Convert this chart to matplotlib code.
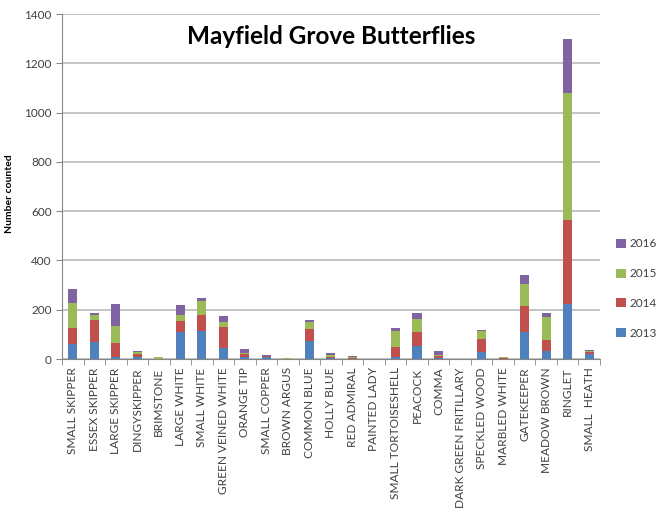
import matplotlib.pyplot as plt
import numpy as np

species = ['SMALL SKIPPER', 'ESSEX SKIPPER', 'LARGE SKIPPER', 'DINGYSKIPPER',
           'BRIMSTONE', 'LARGE WHITE', 'SMALL WHITE', 'GREEN VEINED WHITE',
           'ORANGE TIP', 'SMALL COPPER', 'BROWN ARGUS', 'COMMON BLUE',
           'HOLLY BLUE', 'RED ADMIRAL', 'PAINTED LADY', 'SMALL TORTOISESHELL',
           'PEACOCK', 'COMMA', 'DARK GREEN FRITILLARY', 'SPECKLED WOOD',
           'MARBLED WHITE', 'GATEKEEPER', 'MEADOW BROWN', 'RINGLET',
           'SMALL  HEATH']

y2013 = [60, 70, 7, 10, 0, 111, 114, 46, 10, 8, 0, 73, 5, 1, 0, 10, 54, 5, 0, 28, 0, 111, 32, 223, 19]
y2014 = [67, 87, 58, 9, 2, 45, 63, 85, 9, 4, 0, 49, 5, 3, 0, 40, 56, 9, 0, 55, 4, 103, 46, 340, 8]
y2015 = [102, 20, 68, 8, 5, 21, 60, 20, 7, 1, 5, 27, 8, 4, 2, 65, 51, 2, 0, 32, 4, 92, 91, 515, 4]
y2016 = [54, 11, 90, 5, 2, 41, 9, 22, 16, 2, 1, 8, 6, 3, 0, 12, 26, 16, 0, 4, 1, 36, 18, 222, 5]

years = ['2013', '2014', '2015', '2016']
colors = ['#4F81BD', '#C0504D', '#9BBB59', '#8064A2']

plt.rcParams['font.family'] = ['Lato', 'DejaVu Sans']

fig = plt.figure(figsize=(6.69, 5.2), dpi=100)
ax = fig.add_axes([0.0927, 0.3096, 0.804, 0.6634])

x = np.arange(len(species))
bottom = np.zeros(len(species))
handles = []
for vals, col, yr in zip([y2013, y2014, y2015, y2016], colors, years):
    b = ax.bar(x, vals, 0.42, bottom=bottom, color=col, label=yr, zorder=3)
    handles.append(b)
    bottom += np.array(vals)

ax.set_xlim(-0.5, len(species) - 0.5)
ax.set_ylim(0, 1400)
ax.set_yticks(range(0, 1401, 200))
ax.grid(axis='y', color='#C4C4C4', linewidth=1.4, zorder=0)

for s in ['top', 'right']:
    ax.spines[s].set_visible(False)
ax.spines['left'].set_color('#868686')
ax.spines['bottom'].set_color('#868686')

ax.set_xticks(x)
ax.set_xticklabels(species, rotation=90, fontsize=8.6, color='#404040')
ax.tick_params(axis='x', length=0, pad=6)
ax.set_xticks(np.arange(-0.5, len(species), 1), minor=True)
ax.tick_params(axis='x', which='minor', length=4, color='#868686')
ax.tick_params(axis='y', labelsize=8.5, labelcolor='#404040', length=4, color='#868686')

ax.set_ylabel('Number counted', fontsize=7.5, fontweight='bold')
ax.yaxis.set_label_coords(-0.09, 0.48)

ax.text(0.5, 0.968, 'Mayfield Grove Butterflies', transform=ax.transAxes,
        ha='center', va='top', fontsize=17.5, fontweight='bold',
        bbox=dict(facecolor='white', edgecolor='none', pad=1), zorder=5)

leg = fig.legend(handles[::-1], years[::-1], loc='center left',
                 bbox_to_anchor=(0.905, 0.445), frameon=False, fontsize=8.5,
                 handlelength=0.8, handleheight=0.8, labelspacing=1.6,
                 handletextpad=0.3)
for t in leg.get_texts():
    t.set_color('#404040')

fig.savefig('out.png', dpi=100)
